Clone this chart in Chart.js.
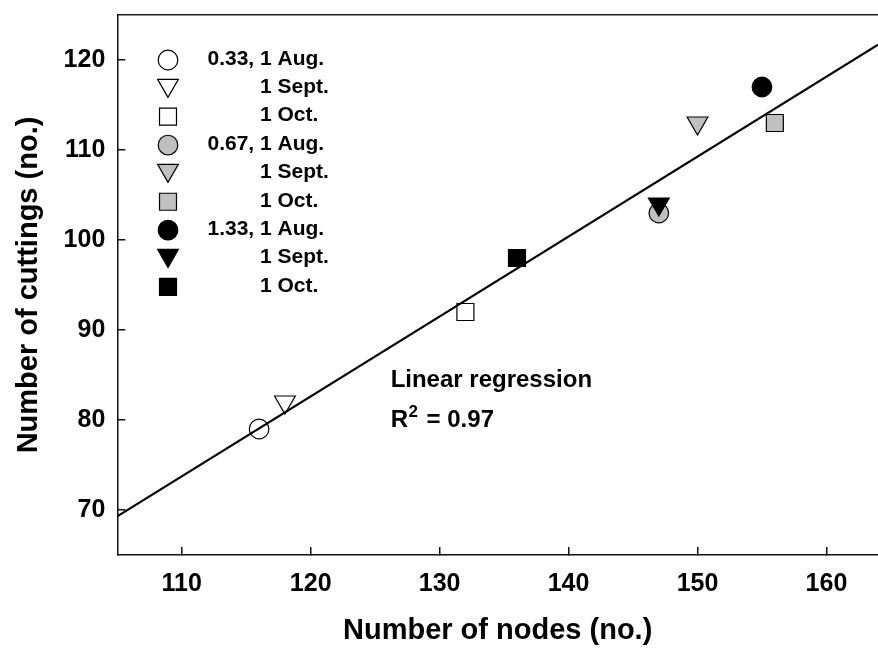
<!DOCTYPE html>
<html><head><meta charset="utf-8">
<script src="https://cdn.jsdelivr.net/npm/chart.js@4.4.1/dist/chart.umd.min.js"></script>
<style>html,body{margin:0;padding:0;background:#fff;} canvas{display:block;}</style>
</head><body>
<canvas id="c" width="878" height="650"></canvas>
<script>
// ---- data ----
const dates = ['1 Aug.', '1 Sept.', '1 Oct.'];
const rates = ['0.33', '0.67', '1.33'];
const nodes033 = [116, 118, 132];
const cuttings033 = [79, 82, 92];
const nodes067 = [147, 150, 156];
const cuttings067 = [103, 113, 113];
const nodes133 = [155, 147, 136];
const cuttings133 = [117, 104, 98];
const regressionNodes = [105, 164];
const regressionCuttings = [69.3, 121.7];
const xTicks = [110, 120, 130, 140, 150, 160];
const yTicks = [70, 80, 90, 100, 110, 120];
const regressionLabel = 'Linear regression';
const r2Value = '0.97';

// ---- styles ----
const FONT = "'Liberation Sans', Arial, Helvetica, sans-serif";
const rateFills = ['rgba(0,0,0,0)', '#c0c0c0', '#000000'];
const dateShapes = [
  {pointStyle: 'circle', rotation: 0, radius: 9.8},
  {pointStyle: 'triangle', rotation: 180, radius: 12},
  {pointStyle: 'rect', rotation: 0, radius: 12}
];
const rateOrder = [30, 20, 10];
const allNodes = [nodes033, nodes067, nodes133];
const allCuttings = [cuttings033, cuttings067, cuttings133];

const datasets = [];
rates.forEach((rate, ri) => {
  dates.forEach((d, di) => {
    const s = dateShapes[di];
    datasets.push({
      type: 'scatter',
      label: rate + ', ' + d,
      data: [{x: allNodes[ri][di], y: allCuttings[ri][di]}],
      pointStyle: s.pointStyle,
      rotation: s.rotation,
      pointRadius: s.radius,
      pointHoverRadius: s.radius,
      backgroundColor: rateFills[ri],
      borderColor: '#000',
      borderWidth: 1.2,
      order: rateOrder[ri]
    });
  });
});
datasets.push({
  type: 'line',
  label: 'regression',
  data: regressionNodes.map((x, i) => ({x, y: regressionCuttings[i]})),
  borderColor: '#000',
  borderWidth: 2,
  pointRadius: 0,
  fill: false,
  tension: 0,
  order: 100
});

function drawSymbol(ctx, style, radius, rotation, x, y, fill) {
  ctx.save();
  ctx.fillStyle = fill; ctx.strokeStyle = '#000'; ctx.lineWidth = 1.2;
  ctx.beginPath();
  if (style === 'circle') {
    ctx.arc(x, y, radius, 0, Math.PI * 2);
  } else if (style === 'triangle') {
    let rad = rotation * Math.PI / 180;
    ctx.moveTo(x + Math.sin(rad) * radius, y - Math.cos(rad) * radius);
    rad += 2 * Math.PI / 3;
    ctx.lineTo(x + Math.sin(rad) * radius, y - Math.cos(rad) * radius);
    rad += 2 * Math.PI / 3;
    ctx.lineTo(x + Math.sin(rad) * radius, y - Math.cos(rad) * radius);
    ctx.closePath();
  } else {
    const s = Math.SQRT1_2 * radius;
    ctx.rect(x - s, y - s, 2 * s, 2 * s);
  }
  ctx.fill(); ctx.stroke();
  ctx.restore();
}

const textPlugin = {
  id: 'texts',
  afterDraw(chart) {
    const ctx = chart.ctx;
    const xs = chart.scales.x, ys = chart.scales.y;
    ctx.save();
    // legend
    const symX = 168, firstY = 60, step = 28.35, dateX = 260;
    ctx.font = 'bold 21px ' + FONT;
    ctx.fillStyle = '#000';
    ctx.textBaseline = 'middle';
    rates.forEach((rate, ri) => {
      dates.forEach((d, di) => {
        const row = ri * 3 + di;
        const y = firstY + row * step;
        const s = dateShapes[di];
        drawSymbol(ctx, s.pointStyle, s.radius, s.rotation, symX, y + (s.pointStyle === 'triangle' ? -3 : 0), rateFills[ri] === 'rgba(0,0,0,0)' ? '#fff' : rateFills[ri]);
        ctx.textAlign = 'left';
        ctx.fillText(d, dateX, y - 1);
        if (di === 0) {
          const pre = rate + ', ';
          ctx.fillText(pre, dateX - ctx.measureText(pre).width, y - 1);
        }
      });
    });
    // regression annotation (anchored in data units)
    const ax = xs.getPixelForValue(126.2);
    const ay1 = ys.getPixelForValue(83.65);
    const ay2 = ys.getPixelForValue(79.2);
    ctx.textBaseline = 'alphabetic';
    ctx.textAlign = 'left';
    ctx.font = 'bold 24px ' + FONT;
    ctx.fillText(regressionLabel, ax, ay1);
    ctx.fillText('R', ax, ay2);
    let cx = ax + ctx.measureText('R').width;
    ctx.font = 'bold 17px ' + FONT;
    ctx.fillText('2', cx + 0.5, ay2 - 10);
    cx += ctx.measureText('2').width + 0.5;
    ctx.font = 'bold 24px ' + FONT;
    ctx.fillText(' = ' + r2Value, cx + 2, ay2);
    ctx.restore();
  }
};

Chart.defaults.font.family = FONT;
Chart.defaults.font.weight = 'bold';
Chart.defaults.color = '#000';

function noPad(s) { s.paddingLeft = 0; s.paddingRight = 0; s.paddingTop = 0; s.paddingBottom = 0; }

new Chart(document.getElementById('c'), {
  type: 'scatter',
  data: {datasets},
  options: {
    responsive: false,
    devicePixelRatio: 1,
    animation: false,
    events: [],
    layout: {autoPadding: false, padding: {top: 15, left: 0, right: 0, bottom: 0}},
    plugins: {legend: {display: false}, tooltip: {enabled: false}},
    scales: {
      x: {
        type: 'linear', position: 'bottom', min: 105, max: 164,
        afterBuildTicks: s => { s.ticks = xTicks.map(v => ({value: v})); },
        afterFit: s => { s.height = 95; noPad(s); },
        grid: {drawOnChartArea: false, drawTicks: true, tickLength: -8, color: '#111', lineWidth: 1.5},
        border: {display: true, color: '#111', width: 1.5},
        ticks: {font: {size: 25, weight: 'bold'}, padding: 22, maxRotation: 0},
        title: {display: true, text: 'Number of nodes (no.)', font: {size: 29, weight: 'bold'}, padding: {top: 0, bottom: 2}}
      },
      x2: {
        type: 'linear', position: 'top', min: 105, max: 164,
        afterBuildTicks: s => { s.ticks = xTicks.map(v => ({value: v})); },
        afterFit: s => { s.height = 0; noPad(s); },
        ticks: {display: false},
        grid: {display: true, drawOnChartArea: false, drawTicks: false},
        border: {display: true, color: '#222', width: 1.5}
      },
      y: {
        type: 'linear', position: 'left', min: 65, max: 125,
        afterBuildTicks: s => { s.ticks = yTicks.map(v => ({value: v})); },
        afterFit: s => { s.width = 117.3; noPad(s); },
        grid: {drawOnChartArea: false, drawTicks: true, tickLength: -8, color: '#111', lineWidth: 1.5},
        border: {display: true, color: '#111', width: 1.5},
        ticks: {font: {size: 25, weight: 'bold'}, padding: 20},
        title: {display: true, text: 'Number of cuttings (no.)', font: {size: 29, weight: 'bold'}, padding: {top: 12, bottom: 0}}
      }
    }
  },
  plugins: [textPlugin]
});
</script>
</body></html>
